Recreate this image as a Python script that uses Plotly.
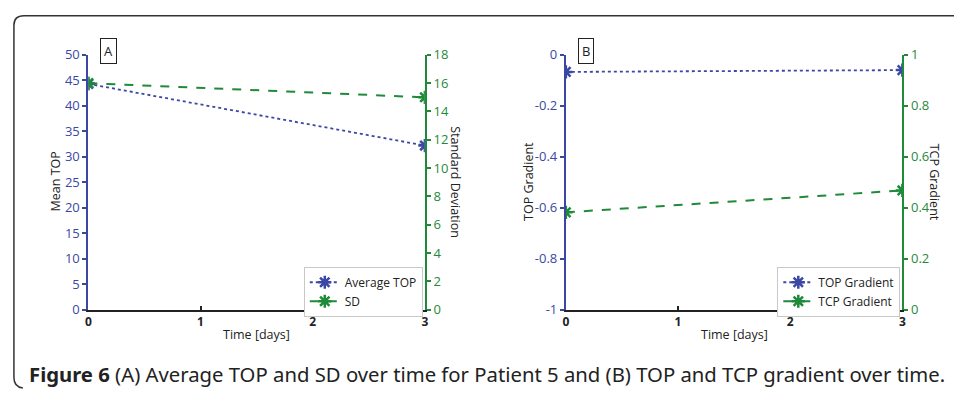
import plotly.graph_objects as go

# ---- data ----
days = [0, 3]
average_top = [44.3, 32.2]
sd_values = [16.0, 15.0]
top_gradient = [-0.067, -0.060]
tcp_gradient = [0.382, 0.468]

left_a_ticks = list(range(0, 51, 5))
right_a_ticks = list(range(0, 19, 2))
left_b_ticks = [-1, -0.8, -0.6, -0.4, -0.2, 0]
left_b_labels = ["-1", "-0.8", "-0.6", "-0.4", "-0.2", "0"]
right_b_ticks = [0, 0.2, 0.4, 0.6, 0.8, 1]
right_b_labels = ["0", "0.2", "0.4", "0.6", "0.8", "1"]
x_ticks = [0, 1, 2, 3]

W, H = 958, 397
BLUE = "#3a48a4"
GREEN = "#1f8a3a"
FONT = "Open Sans"


def px(x):
    return x / W


def py(y):
    return 1 - y / H


dom_a = [px(86), px(425)]
dom_b = [px(567), px(906)]
dom_y = [py(315), py(48)]

fig = go.Figure()


def star(color):
    return dict(symbol="asterisk-open", size=11, color=color,
                line=dict(color=color, width=2.5))


fig.add_trace(go.Scatter(
    x=days, y=average_top, name="Average TOP", mode="lines+markers",
    line=dict(color=BLUE, width=1.8, dash="dot"), marker=star(BLUE),
    xaxis="x", yaxis="y", legend="legend"))
fig.add_trace(go.Scatter(
    x=days, y=sd_values, name="SD", mode="lines+markers",
    line=dict(color=GREEN, width=2, dash="dash"), marker=star(GREEN),
    xaxis="x", yaxis="y2", legend="legend"))
fig.add_trace(go.Scatter(
    x=days, y=top_gradient, name="TOP Gradient", mode="lines+markers",
    line=dict(color=BLUE, width=1.8, dash="dot"), marker=star(BLUE),
    xaxis="x2", yaxis="y3", legend="legend2"))
fig.add_trace(go.Scatter(
    x=days, y=tcp_gradient, name="TCP Gradient", mode="lines+markers",
    line=dict(color=GREEN, width=2, dash="dash"), marker=star(GREEN),
    xaxis="x2", yaxis="y4", legend="legend2"))

xaxis_common = dict(
    range=[0, 3], tickvals=x_ticks, showgrid=False, zeroline=False,
    showline=True, linecolor="#222", linewidth=2,
    ticks="inside", ticklen=4, tickcolor="#222", tickwidth=2,
    tickfont=dict(family=FONT, size=12, color="#222", weight="bold"),
)


def yaxis_style(color, vals, labels=None):
    d = dict(
        showgrid=False, zeroline=False, showline=True, linecolor=color,
        linewidth=2, ticks="outside", ticklen=4, tickcolor=color, tickwidth=1.5,
        tickvals=vals, tickfont=dict(family=FONT, size=13, color=color),
    )
    if labels is not None:
        d["ticktext"] = labels
    return d


legend_style = dict(
    xanchor="left", yanchor="top", bgcolor="white", bordercolor="#c8c8c8",
    borderwidth=1, font=dict(family=FONT, size=12, color="#222"),
    tracegroupgap=0, itemwidth=30)

fig.update_layout(
    width=W, height=H,
    margin=dict(l=0, r=0, t=0, b=0),
    paper_bgcolor="white", plot_bgcolor="white",
    font=dict(family=FONT, color="#222"),
    xaxis=dict(domain=dom_a, anchor="y", **xaxis_common),
    xaxis2=dict(domain=dom_b, anchor="y3", **xaxis_common),
    yaxis=dict(domain=dom_y, anchor="x", range=[0, 50],
               **yaxis_style(BLUE, left_a_ticks)),
    yaxis2=dict(overlaying="y", anchor="x", side="right", range=[0, 18],
                **yaxis_style(GREEN, right_a_ticks)),
    yaxis3=dict(domain=dom_y, anchor="x2", range=[-1, 0],
                **yaxis_style(BLUE, left_b_ticks, left_b_labels)),
    yaxis4=dict(overlaying="y3", anchor="x2", side="right", range=[0, 1],
                **yaxis_style(GREEN, right_b_ticks, right_b_labels)),
    legend=dict(x=px(303), y=py(270), **legend_style),
    legend2=dict(x=px(780), y=py(270), **legend_style),
    showlegend=True,
)

annotations = [
    dict(x=px(53), y=py(181), text="Mean TOP", textangle=-90),
    dict(x=px(456), y=py(181), text="Standard Deviation", textangle=90),
    dict(x=px(530), y=py(181), text="TOP Gradient", textangle=-90),
    dict(x=px(938), y=py(181), text="TCP Gradient", textangle=90),
    dict(x=px(255), y=py(341), text="Time [days]"),
    dict(x=px(737), y=py(341), text="Time [days]"),
]
for a in annotations:
    fig.add_annotation(xref="paper", yref="paper", showarrow=False,
                       xanchor="center", yanchor="middle",
                       font=dict(family=FONT, size=12.5, color="#222"), **a)

# panel letters in boxes
for lx, letter in [(106, "A"), (587, "B")]:
    fig.add_annotation(xref="paper", yref="paper", x=px(lx), y=py(44),
                       text=letter, showarrow=False, xanchor="center",
                       yanchor="middle", bordercolor="#222", borderwidth=1,
                       borderpad=3, bgcolor="white",
                       font=dict(family=FONT, size=13, color="#222"))

# caption
fig.add_annotation(
    xref="paper", yref="paper", x=px(24), y=py(382), xanchor="left",
    yanchor="middle", showarrow=False,
    text="<b>Figure 6</b> (A) Average TOP and SD over time for Patient 5 "
         "and (B) TOP and TCP gradient over time.",
    font=dict(family="Noto Sans", size=20.3, color="#222"))

# rounded frame around the figure
fig.add_shape(
    type="path", xref="paper", yref="paper",
    path=(f"M 1,{py(7)} L {px(21)},{py(7)} "
          f"Q {px(11)},{py(7)} {px(11)},{py(17)} "
          f"L {px(11)},{py(386)} Q {px(11)},{py(396)} {px(20)},{py(397)}"),
    line=dict(color="#333", width=1.5))

fig.write_html("out.html")
